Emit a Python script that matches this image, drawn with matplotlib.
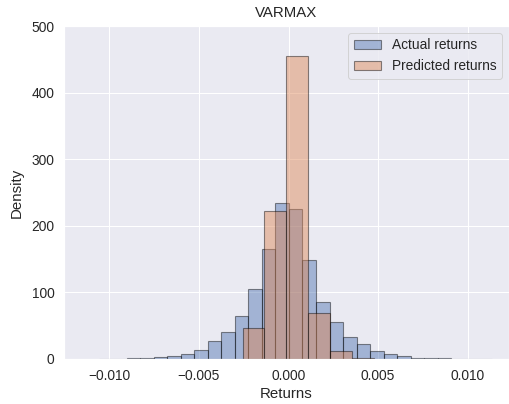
import numpy as np
import matplotlib
matplotlib.use("Agg")
import matplotlib.pyplot as plt
import seaborn as sns

# Histogram densities of daily returns (actual vs VARMAX predicted)
actual_start = -0.01055
actual_width = 0.000755
actual_density = [0.3, 0.0, 1.0, 1.0, 2.5, 5.0, 7.5, 13.5, 27.0, 40.7,
                  64.0, 105.0, 165.0, 234.0, 225.6, 149.0, 86.0, 55.0, 33.0, 22.6,
                  12.0, 7.5, 5.0, 2.0, 1.0, 1.0, 0.5, 0.3, 0.3]

predicted_start = -0.00257
predicted_width = 0.001223
predicted_density = [46.7, 222.6, 454.8, 69.8, 12.6, 2.0]


def bin_edges(start, width, n):
    return start + width * np.arange(n + 1)


sns.set_theme(style="darkgrid", font_scale=1.25)
plt.rcParams['font.family'] = ['Liberation Sans', 'DejaVu Sans']

fig = plt.figure(figsize=(509 / 72, 404 / 72), dpi=72)
ax = fig.add_axes([64 / 509, (404 - 359) / 404, 445 / 509, 333 / 404])

edges_a = bin_edges(actual_start, actual_width, len(actual_density))
edges_p = bin_edges(predicted_start, predicted_width, len(predicted_density))

ax.hist(edges_a[:-1], bins=edges_a, weights=actual_density,
        alpha=0.45, edgecolor='black', linewidth=1.1, label='Actual returns')
ax.hist(edges_p[:-1], bins=edges_p, weights=predicted_density,
        alpha=0.45, edgecolor='black', linewidth=1.1, label='Predicted returns')

ax.set_xlim(-0.01253, 0.0123)
ax.set_ylim(0, 500)
ax.set_xticks([-0.010, -0.005, 0.000, 0.005, 0.010])
ax.set_xticklabels(['\u22120.010', '\u22120.005', '0.000', '0.005', '0.010'])
ax.set_xlabel('Returns')
ax.set_ylabel('Density', labelpad=8)
ax.set_title('VARMAX', pad=9)
ax.legend(loc='upper right')

fig.savefig('out.png', dpi=72)
